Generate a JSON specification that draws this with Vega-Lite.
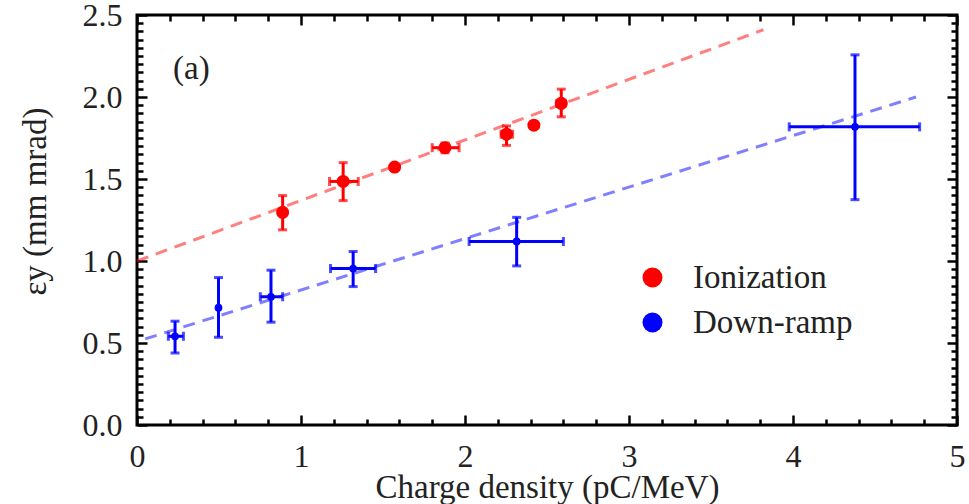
{
  "$schema": "https://vega.github.io/schema/vega-lite/v6.json",
  "width": 820,
  "height": 410,
  "autosize": {"type": "none"},
  "padding": {"left": 137, "top": 15, "right": 12, "bottom": 79},
  "config": {
    "view": {"stroke": "#000000", "strokeWidth": 3},
    "font": "Liberation Serif",
    "axis": {
      "domain": false,
      "ticks": false,
      "gridColor": "#000000",
      "gridWidth": 2.5,
      "gridOpacity": 1,
      "labelFont": "Liberation Serif",
      "labelFontSize": 32,
      "labelColor": "#222222",
      "labelOverlap": false,
      "labelFlush": false,
      "labelBound": false,
      "titleFont": "Liberation Serif",
      "titleFontSize": 33,
      "titleFontWeight": "normal",
      "titleColor": "#222222"
    }
  },
  "datasets": {
    "pts": [
      {"series": "Ionization", "x": 0.888, "y": 1.297, "xlo": null, "xhi": null, "ylo": 1.19, "yhi": 1.399},
      {"series": "Ionization", "x": 1.257, "y": 1.485, "xlo": 1.174, "xhi": 1.349, "ylo": 1.368, "yhi": 1.6},
      {"series": "Ionization", "x": 1.571, "y": 1.573, "xlo": null, "xhi": null, "ylo": null, "yhi": null},
      {"series": "Ionization", "x": 1.878, "y": 1.691, "xlo": 1.8, "xhi": 1.964, "ylo": 1.66, "yhi": 1.72},
      {"series": "Ionization", "x": 2.253, "y": 1.773, "xlo": 2.22, "xhi": 2.29, "ylo": 1.705, "yhi": 1.824},
      {"series": "Ionization", "x": 2.42, "y": 1.828, "xlo": null, "xhi": null, "ylo": null, "yhi": null},
      {"series": "Ionization", "x": 2.587, "y": 1.961, "xlo": 2.56, "xhi": 2.61, "ylo": 1.879, "yhi": 2.048},
      {"series": "Down-ramp", "x": 0.232, "y": 0.541, "xlo": 0.191, "xhi": 0.283, "ylo": 0.439, "yhi": 0.633},
      {"series": "Down-ramp", "x": 0.497, "y": 0.715, "xlo": null, "xhi": null, "ylo": 0.535, "yhi": 0.899},
      {"series": "Down-ramp", "x": 0.817, "y": 0.782, "xlo": 0.752, "xhi": 0.888, "ylo": 0.627, "yhi": 0.944},
      {"series": "Down-ramp", "x": 1.318, "y": 0.954, "xlo": 1.18, "xhi": 1.455, "ylo": 0.844, "yhi": 1.058},
      {"series": "Down-ramp", "x": 2.315, "y": 1.119, "xlo": 2.025, "xhi": 2.6, "ylo": 0.97, "yhi": 1.266},
      {"series": "Down-ramp", "x": 4.378, "y": 1.818, "xlo": 3.977, "xhi": 4.772, "ylo": 1.374, "yhi": 2.257}
    ],
    "fits": [
      {"series": "Ionization", "x": 0.0, "y": 1.0},
      {"series": "Ionization", "x": 3.82, "y": 2.41},
      {"series": "Down-ramp", "x": 0.05, "y": 0.525},
      {"series": "Down-ramp", "x": 4.75, "y": 2.0}
    ],
    "ann": [
      {"label": "(a)", "x": 0.22, "y": 2.17}
    ]
  },
  "layer": [
    {
      "data": {"name": "fits"},
      "mark": {"type": "line", "strokeDash": [12, 8], "strokeWidth": 3, "opacity": 0.5},
      "encoding": {
        "x": {
          "field": "x", "type": "quantitative",
          "scale": {"domain": [0, 5], "nice": false, "zero": false},
          "axis": {
            "orient": "bottom",
            "values": [0,0.2,0.4,0.6,0.8,1,1.2,1.4,1.6,1.8,2,2.2,2.4,2.6,2.8,3,3.2,3.4,3.6,3.8,4,4.2,4.4,4.6,4.8,5],
            "grid": true,
            "gridDash": {"condition": {"test": "abs(datum.value - round(datum.value)) < 0.001", "value": [10, 2000]}, "value": [6, 2000]},
            "labelExpr": "abs(datum.value - round(datum.value)) < 0.001 ? format(datum.value, 'd') : ''",
            "labelPadding": 16,
            "title": "Charge density (pC/MeV)",
            "titleY": 72,
            "titleBaseline": "alphabetic"
          }
        },
        "y": {
          "field": "y", "type": "quantitative",
          "scale": {"domain": [0, 2.5], "nice": false, "zero": false},
          "axis": {
            "orient": "left",
            "values": [0,0.05,0.1,0.15,0.2,0.25,0.3,0.35,0.4,0.45,0.5,0.55,0.6,0.65,0.7,0.75,0.8,0.85,0.9,0.95,1,1.05,1.1,1.15,1.2,1.25,1.3,1.35,1.4,1.45,1.5,1.55,1.6,1.65,1.7,1.75,1.8,1.85,1.9,1.95,2,2.05,2.1,2.15,2.2,2.25,2.3,2.35,2.4,2.45,2.5],
            "grid": true,
            "gridDash": {"condition": {"test": "abs(datum.value * 2 - round(datum.value * 2)) < 0.001", "value": [10, 2000]}, "value": [6, 2000]},
            "labelExpr": "abs(datum.value * 2 - round(datum.value * 2)) < 0.001 ? format(datum.value, '.1f') : ''",
            "labelPadding": 15,
            "title": "εy (mm mrad)",
            "titleX": -102,
            "titleY": 186,
            "titleAngle": -90,
            "titleAlign": "center",
            "titleBaseline": "middle"
          }
        },
        "color": {"condition": {"test": "datum.series === 'Ionization'", "value": "#ff0000"}, "value": "#0000ff"},
        "detail": {"field": "series"}
      }
    },
    {
      "data": {"name": "ann"},
      "mark": {"type": "text", "align": "left", "baseline": "middle", "fontSize": 33, "font": "Liberation Serif", "color": "#222222"},
      "encoding": {
        "x": {
          "field": "x", "type": "quantitative",
          "axis": {
            "orient": "top",
            "values": [0,0.2,0.4,0.6,0.8,1,1.2,1.4,1.6,1.8,2,2.2,2.4,2.6,2.8,3,3.2,3.4,3.6,3.8,4,4.2,4.4,4.6,4.8,5],
            "grid": true,
            "gridDash": {"condition": {"test": "abs(datum.value - round(datum.value)) < 0.001", "value": [10, 2000]}, "value": [6, 2000]},
            "labels": false,
            "title": null
          }
        },
        "y": {
          "field": "y", "type": "quantitative",
          "axis": {
            "orient": "right",
            "values": [0,0.05,0.1,0.15,0.2,0.25,0.3,0.35,0.4,0.45,0.5,0.55,0.6,0.65,0.7,0.75,0.8,0.85,0.9,0.95,1,1.05,1.1,1.15,1.2,1.25,1.3,1.35,1.4,1.45,1.5,1.55,1.6,1.65,1.7,1.75,1.8,1.85,1.9,1.95,2,2.05,2.1,2.15,2.2,2.25,2.3,2.35,2.4,2.45,2.5],
            "grid": true,
            "gridDash": {"condition": {"test": "abs(datum.value * 2 - round(datum.value * 2)) < 0.001", "value": [10, 2000]}, "value": [6, 2000]},
            "labels": false,
            "title": null
          }
        },
        "text": {"field": "label"}
      }
    },
    {
      "data": {"name": "pts"},
      "transform": [{"filter": "isValid(datum.xlo)"}],
      "mark": {"type": "rule", "strokeWidth": 3},
      "encoding": {
        "x": {"field": "xlo", "type": "quantitative", "axis": null},
        "x2": {"field": "xhi"},
        "y": {"field": "y", "type": "quantitative", "axis": null},
        "color": {"condition": {"test": "datum.series === 'Ionization'", "value": "#ff0000"}, "value": "#0000ff"}
      }
    },
    {
      "data": {"name": "pts"},
      "transform": [{"filter": "isValid(datum.ylo)"}],
      "mark": {"type": "rule", "strokeWidth": 3},
      "encoding": {
        "x": {"field": "x", "type": "quantitative", "axis": null},
        "y": {"field": "ylo", "type": "quantitative", "axis": null},
        "y2": {"field": "yhi"},
        "color": {"condition": {"test": "datum.series === 'Ionization'", "value": "#ff0000"}, "value": "#0000ff"}
      }
    },
    {
      "data": {"name": "pts"},
      "transform": [
        {"fold": ["ylo", "yhi"], "as": ["k", "yc"]},
        {"filter": "isValid(datum.yc)"}
      ],
      "mark": {"type": "tick", "orient": "horizontal", "thickness": 3, "size": 9},
      "encoding": {
        "x": {"field": "x", "type": "quantitative", "axis": null},
        "y": {"field": "yc", "type": "quantitative", "axis": null},
        "color": {"condition": {"test": "datum.series === 'Ionization'", "value": "#ff0000"}, "value": "#0000ff"}
      }
    },
    {
      "data": {"name": "pts"},
      "transform": [
        {"fold": ["xlo", "xhi"], "as": ["k", "xc"]},
        {"filter": "isValid(datum.xc)"}
      ],
      "mark": {"type": "tick", "orient": "vertical", "thickness": 3, "size": 9},
      "encoding": {
        "x": {"field": "xc", "type": "quantitative", "axis": null},
        "y": {"field": "y", "type": "quantitative", "axis": null},
        "color": {"condition": {"test": "datum.series === 'Ionization'", "value": "#ff0000"}, "value": "#0000ff"}
      }
    },
    {
      "data": {"name": "pts"},
      "mark": {"type": "point", "filled": true, "opacity": 1},
      "encoding": {
        "x": {"field": "x", "type": "quantitative", "axis": null},
        "y": {"field": "y", "type": "quantitative", "axis": null},
        "color": {
          "field": "series", "type": "nominal",
          "scale": {"domain": ["Ionization", "Down-ramp"], "range": ["#ff0000", "#0000ff"]},
          "legend": {
            "orient": "none",
            "legendX": 499,
            "legendY": 246,
            "title": null,
            "symbolSize": 400,
            "symbolType": "circle",
            "symbolOpacity": 1,
            "labelFont": "Liberation Serif",
            "labelFontSize": 33,
            "labelColor": "#222222",
            "labelOffset": 24,
            "rowPadding": 11
          }
        },
        "size": {"condition": {"test": "datum.series === 'Ionization'", "value": 170}, "value": 60}
      }
    }
  ],
  "resolve": {"axis": {"x": "independent", "y": "independent"}}
}
